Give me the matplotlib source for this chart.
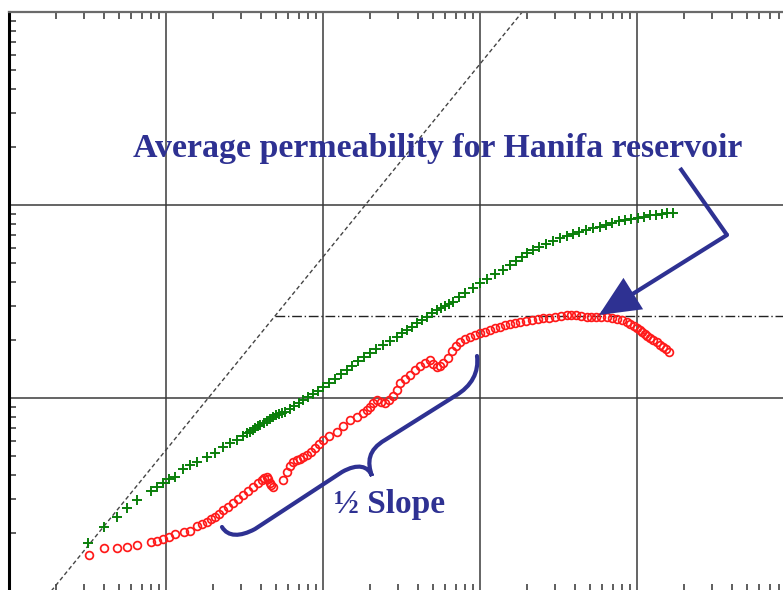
import numpy as np
import matplotlib
matplotlib.use("Agg")
import matplotlib.pyplot as plt
from matplotlib.path import Path
from matplotlib.patches import PathPatch, FancyArrowPatch
from matplotlib.lines import Line2D

# Pressure-change series (green +): elapsed time vs. pressure change
dp_time = [3.20e-3, 4.03e-3, 4.85e-3, 5.62e-3, 6.50e-3, 8.00e-3, 8.81e-3, 9.62e-3,
           1.05e-2, 1.14e-2, 1.29e-2, 1.42e-2, 1.57e-2, 1.82e-2, 2.05e-2, 2.32e-2,
           2.56e-2, 2.82e-2, 3.09e-2, 3.26e-2, 3.43e-2, 3.56e-2, 3.69e-2, 3.83e-2,
           3.97e-2, 4.18e-2, 4.40e-2, 4.61e-2, 4.82e-2, 5.03e-2, 5.25e-2, 5.48e-2,
           5.73e-2, 6.12e-2, 6.53e-2, 7.00e-2, 7.50e-2, 8.05e-2, 8.63e-2, 9.30e-2,
           0.100, 0.109, 0.119, 0.130, 0.142, 0.154, 0.167, 0.182, 0.199, 0.219,
           0.241, 0.266, 0.294, 0.318, 0.343, 0.368, 0.395, 0.426, 0.459, 0.493,
           0.530, 0.563, 0.598, 0.636, 0.676, 0.737, 0.803, 0.896, 1.00, 1.116,
           1.246, 1.391, 1.553, 1.696, 1.852, 2.007, 2.176, 2.392, 2.63, 2.917,
           3.235, 3.556, 3.91, 4.30, 4.73, 5.24, 5.81, 6.35, 6.93, 7.63,
           8.39, 9.21, 10.1, 11.05, 12.1, 13.2, 14.4, 15.6, 16.9]
dp_value = [1.766, 2.138, 2.427, 2.683, 2.962, 3.30, 3.47, 3.64,
            3.79, 3.91, 4.27, 4.50, 4.68, 4.93, 5.17, 5.59,
            5.85, 6.06, 6.39, 6.55, 6.69, 6.84, 7.00, 7.12,
            7.25, 7.42, 7.60, 7.78, 7.97, 8.12, 8.26, 8.37,
            8.49, 8.80, 9.14, 9.45, 9.77, 10.1, 10.5, 10.9,
            11.4, 12.0, 12.6, 13.3, 14.0, 14.7, 15.5, 16.3, 17.1, 17.9,
            18.8, 19.8, 20.8, 21.6, 22.5, 23.4, 24.4, 25.4, 26.4, 27.5,
            28.6, 29.3, 30.0, 30.8, 31.6, 33.2, 35.0, 37.1, 39.4, 41.6,
            43.9, 46.3, 48.9, 51.3, 53.8, 56.1, 58.5, 60.7, 62.8, 65.1,
            67.5, 69.2, 70.8, 72.5, 74.2, 75.6, 76.9, 78.8, 80.7, 82.2,
            83.6, 84.7, 85.7, 87.0, 88.3, 89.1, 89.8, 90.4, 90.9]

# Pressure-derivative series (red o)
der_time = [3.24e-3, 4.03e-3, 4.85e-3, 5.62e-3, 6.50e-3, 8.02e-3, 8.81e-3, 9.62e-3,
            1.05e-2, 1.14e-2, 1.30e-2, 1.42e-2, 1.57e-2,
            1.69e-2, 1.82e-2, 1.93e-2, 2.05e-2, 2.18e-2, 2.32e-2, 2.50e-2, 2.69e-2,
            2.89e-2, 3.10e-2, 3.34e-2, 3.60e-2, 3.83e-2, 4.07e-2, 4.23e-2, 4.38e-2,
            4.48e-2, 4.59e-2, 4.68e-2, 4.77e-2,
            5.58e-2, 5.93e-2, 6.20e-2, 6.47e-2, 6.80e-2, 7.14e-2, 7.50e-2, 7.87e-2,
            8.36e-2, 8.89e-2, 9.43e-2,
            0.100, 0.110, 0.122, 0.135, 0.149, 0.164, 0.181, 0.190, 0.199, 0.209,
            0.220, 0.234, 0.248, 0.264, 0.281, 0.295, 0.309, 0.333, 0.358, 0.386,
            0.415, 0.447, 0.481, 0.505, 0.530, 0.556, 0.584, 0.621, 0.661, 0.702,
            0.746, 0.803, 0.864, 0.930,
            1.00, 1.076, 1.158, 1.246, 1.341, 1.443, 1.553, 1.671, 1.798, 1.962,
            2.14, 2.33, 2.53, 2.76, 3.00, 3.27, 3.57, 3.82, 4.09, 4.42,
            4.78, 5.12, 5.48, 5.93, 6.41, 6.91, 7.46, 8.01, 8.60, 9.07,
            9.57, 10.0, 10.45, 10.8, 11.2, 11.65, 12.1, 12.7, 13.4, 14.0,
            14.7, 15.4, 16.1]
der_value = [1.537, 1.664, 1.664, 1.696, 1.730, 1.800, 1.822, 1.853,
             1.911, 1.974, 2.029, 2.053, 2.172,
             2.23, 2.286, 2.35, 2.427, 2.52, 2.630, 2.74, 2.846,
             2.99, 3.143, 3.30, 3.47, 3.62, 3.76, 3.83, 3.88,
             3.80, 3.63, 3.53, 3.46,
             3.76, 4.15, 4.42, 4.68, 4.75, 4.81, 4.93, 5.07,
             5.27, 5.49, 5.76,
             6.06, 6.35, 6.69, 7.17, 7.69, 8.00, 8.33, 8.65, 9.02, 9.40,
             9.77, 9.55, 9.39, 9.75, 10.2, 11.0, 11.9, 12.5, 13.2, 13.9,
             14.7, 15.2, 15.7, 15.0, 14.5, 14.7, 15.1, 16.2, 17.5, 18.6,
             19.6, 20.1, 20.6, 21.1,
             21.6, 22.0, 22.5, 23.0, 23.4, 23.8, 24.2, 24.6, 24.9, 25.1,
             25.4, 25.7, 25.9, 26.1, 26.4, 26.7, 26.9, 26.9, 26.8, 26.6,
             26.4, 26.35, 26.3, 26.25, 26.2, 26.0, 25.7, 25.3, 24.9, 24.3,
             23.6, 23.0, 22.5, 22.0, 21.5, 20.9, 20.4, 19.9, 19.4, 18.9,
             18.4, 17.9, 17.4]

# Unit-slope (wellbore storage) reference line
unit_slope_time = [1.0e-3, 2.0]
unit_slope_value = [0.538, 1076.0]

# Radial-flow stabilisation level
radial_start = 0.0494
radial_level = 26.6

W, H = 783, 590
fig = plt.figure(figsize=(W / 100, H / 100), dpi=100)
ax = fig.add_axes([9 / W, (H - 591) / H, 785 / W, 579 / H])
ax.set_xscale("log")
ax.set_yscale("log")
ax.set_xlim(1e-3, 1e2)
ax.set_ylim(1, 1000)

ax.grid(True, which="major", color="#3a3a3a", lw=1.1)
ax.tick_params(which="both", direction="in", labelbottom=False, labelleft=False,
               top=True, bottom=True, left=True, right=False)
ax.tick_params(which="major", length=0)
ax.tick_params(which="minor", length=5, width=1.1, color="#333333")
for side in ("right", "bottom"):
    ax.spines[side].set_visible(False)
ax.spines["left"].set_linewidth(2.2)
ax.spines["left"].set_color("black")
ax.spines["top"].set_linewidth(1.6)
ax.spines["top"].set_color("#6a6a6a")

ax.plot(unit_slope_time, unit_slope_value, color="#444444", lw=1.0,
        linestyle=(0, (3, 2)))
ax.plot([radial_start, 1e2], [radial_level, radial_level], color="#222222",
        lw=1.0, linestyle=(0, (7, 2, 1, 2)))

ax.plot(dp_time, dp_value, linestyle="none", marker="+", ms=6.5, mew=1.4,
        color="#0a7f0a")
ax.plot(der_time, der_value, linestyle="none", marker="o", ms=5.6, mew=1.25,
        mfc="none", mec="#ff1a1a")

navy = "#2E3192"


def P(x, y):
    return (x / W, 1 - y / H)


fig.text(*P(437.5, 148), "Average permeability for Hanifa reservoir",
         ha="center", va="center", fontsize=24.4, fontweight="bold",
         family="Liberation Serif", color=navy)
fig.text(*P(390, 505), "\u00bd Slope", ha="center", va="center", fontsize=24,
         fontweight="bold", family="Liberation Serif", color=navy)

# Pointer to the stabilised derivative
fig.add_artist(Line2D([P(680, 168)[0], P(727, 235)[0]],
                      [P(680, 168)[1], P(727, 235)[1]],
                      color=navy, lw=3, solid_capstyle="butt"))
fig.add_artist(FancyArrowPatch(P(727, 235), P(599, 315), transform=fig.transFigure,
                               arrowstyle="-|>,head_length=1.2,head_width=0.55",
                               mutation_scale=20, color=navy, lw=3,
                               shrinkA=0, shrinkB=0, joinstyle="miter"))

# Brace marking the half-slope section
brace_pts = [(222, 527), (228, 537), (240, 537), (255, 529),
             (342, 472),
             (358, 463), (368, 466), (372, 476),
             (367, 462), (368, 450), (385, 440),
             (455, 396),
             (472, 386), (479, 372), (477, 356)]
codes = [Path.MOVETO, Path.CURVE4, Path.CURVE4, Path.CURVE4,
         Path.LINETO,
         Path.CURVE4, Path.CURVE4, Path.CURVE4,
         Path.CURVE4, Path.CURVE4, Path.CURVE4,
         Path.LINETO,
         Path.CURVE4, Path.CURVE4, Path.CURVE4]
brace = Path([P(x, y) for x, y in brace_pts], codes)
fig.add_artist(PathPatch(brace, transform=fig.transFigure, fill=False,
                         edgecolor=navy, lw=3, capstyle="round"))

fig.savefig("out.png", dpi=100)
